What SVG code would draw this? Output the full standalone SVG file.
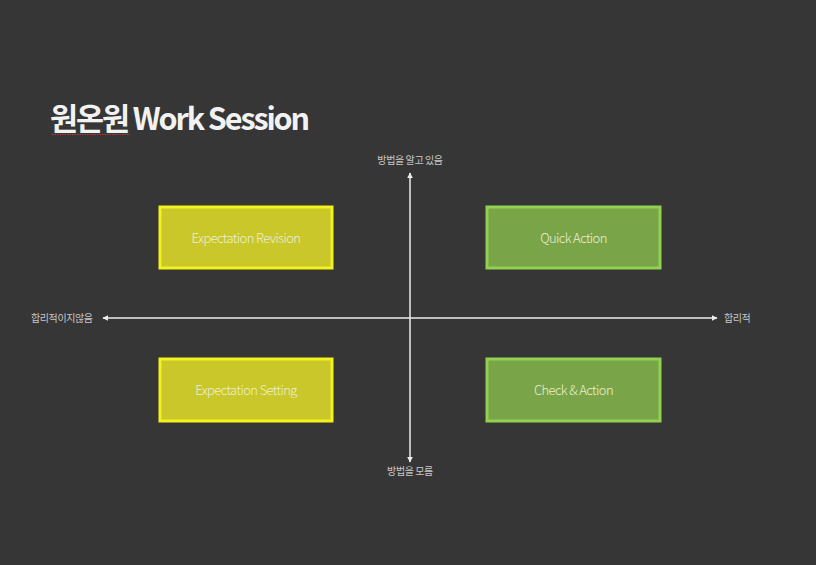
<svg xmlns="http://www.w3.org/2000/svg" width="816" height="565" viewBox="0 0 816 565">
<style>
.bg{fill:#363636}
.title{font-family:"Noto Sans CJK KR","Open Sans",sans-serif;font-weight:700;font-size:30.5px;fill:#f2f2f2;letter-spacing:-2.1px}
.ybox{fill:#c9c72a;stroke:#f4f21c;stroke-width:3}
.gbox{fill:#79a548;stroke:#92d050;stroke-width:3}
.lbl{font-family:"Noto Sans CJK KR","Open Sans",sans-serif;font-weight:300;font-size:13px;fill:#eeeed8;text-anchor:middle;letter-spacing:-0.6px}
.ax{font-family:"Noto Sans CJK KR",sans-serif;font-size:10px;fill:#c8c8c8;letter-spacing:-0.4px}
.axis{stroke:#ececec;stroke-width:1.5;fill:none}
</style>
<defs>
<marker id="ah" viewBox="0 0 10 10" refX="9" refY="5" markerWidth="6" markerHeight="6" orient="auto-start-reverse" markerUnits="userSpaceOnUse">
<path d="M0,0 L10,5 L0,10 z" fill="#ececec"/>
</marker>
</defs>
<rect class="bg" x="0" y="0" width="816" height="565"/>
<g id="title">
<text class="title" x="50" y="130">원온원 Work Session</text>
<line x1="52" y1="134.5" x2="130" y2="134.5" stroke="#c0392b" stroke-width="1" stroke-dasharray="1.5,1"/>
</g>
<g id="connectors">
<line class="axis" x1="410" y1="462" x2="410" y2="173" marker-start="url(#ah)" marker-end="url(#ah)"/>
<line class="axis" x1="103" y1="318" x2="717" y2="318" marker-start="url(#ah)" marker-end="url(#ah)"/>
</g>
<g id="axis-labels">
<text class="ax" x="410" y="163.5" text-anchor="middle">방법을 알고 있음</text>
<text class="ax" x="410" y="474.5" text-anchor="middle">방법을 모름</text>
<text class="ax" x="31" y="321.5">합리적이지않음</text>
<text class="ax" x="724" y="321.5">합리적</text>
</g>
<g id="expectation-revision">
<rect class="ybox" x="160" y="207" width="172" height="61"/>
<text class="lbl" x="246" y="242.5">Expectation Revision</text>
</g>
<g id="quick-action">
<rect class="gbox" x="487" y="207" width="173" height="61"/>
<text class="lbl" x="573.5" y="242.5">Quick Action</text>
</g>
<g id="expectation-setting">
<rect class="ybox" x="160" y="359" width="172" height="62"/>
<text class="lbl" x="246" y="395">Expectation Setting</text>
</g>
<g id="check-action">
<rect class="gbox" x="487" y="359" width="173" height="62"/>
<text class="lbl" x="573.5" y="395">Check &amp; Action</text>
</g>
</svg>
